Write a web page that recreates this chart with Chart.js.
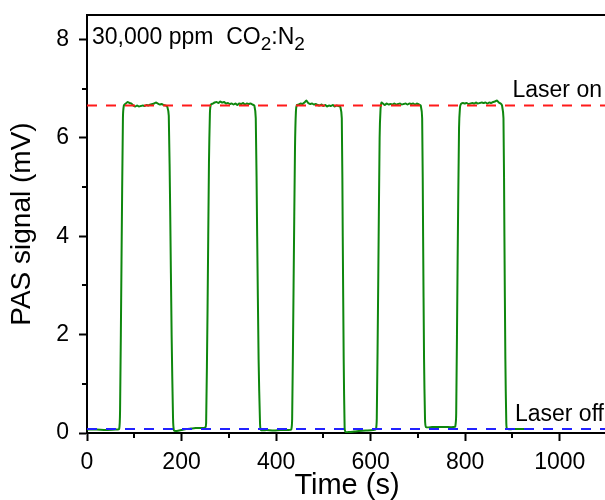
<!DOCTYPE html>
<html>
<head>
<meta charset="utf-8">
<script src="https://cdn.jsdelivr.net/npm/chart.js@4"></script>
<style>
  html, body { margin: 0; padding: 0; background: #fff; overflow: hidden; }
  #wrap { width: 610px; height: 500px; }
</style>
</head>
<body>
<div id="wrap"><canvas id="myChart"></canvas></div>
<script>
// time (s) and PAS signal (mV)
const timeS = [
  0, 20, 40, 60, 68, 70, 73, 76, 78, 82, 86, 90, 94, 98, 102, 106, 110, 114, 118, 122,
  126, 130, 134, 138, 142, 146, 150, 154, 158, 162, 166, 170, 173, 176, 179, 182, 184,
  190, 200, 210, 220, 230, 240, 250,
  252, 255, 258, 260, 262, 266, 270, 274, 278, 282, 286, 290, 294, 298, 302, 306, 310,
  314, 318, 322, 326, 330, 334, 338, 342, 346, 350, 354, 357, 360, 363, 366, 368,
  380, 395, 410, 425, 432,
  434, 437, 440, 442, 444, 448, 452, 456, 460, 464, 468, 472, 476, 480, 484, 488, 492,
  496, 500, 504, 508, 512, 516, 520, 524, 528, 532, 536, 539, 541, 543, 545, 547,
  555, 565, 575, 590, 605, 611,
  613, 616, 619, 621, 623, 626, 630, 634, 638, 642, 646, 650, 654, 658, 662, 666, 670,
  674, 678, 682, 686, 690, 694, 698, 702, 706, 709, 711, 713, 715, 717,
  730, 745, 760, 775, 779,
  781, 784, 787, 789, 791, 795, 799, 803, 807, 811, 815, 819, 823, 827, 831, 835, 839,
  843, 847, 851, 855, 859, 863, 867, 871, 875, 878, 881, 883, 885, 887, 889,
  900, 915, 936
];
const signalMV = [
  0.07, 0.07, 0.06, 0.07, 0.08, 0.5, 3.5, 6.4, 6.66, 6.70, 6.73, 6.71, 6.70, 6.66, 6.64, 6.66, 6.64, 6.65, 6.66, 6.65,
  6.67, 6.66, 6.68, 6.69, 6.70, 6.72, 6.70, 6.68, 6.69, 6.67, 6.66, 6.63, 6.45, 4.5, 2.0, 0.3, 0.05,
  0.04, 0.06, 0.08, 0.09, 0.10, 0.10, 0.11,
  0.2, 2.5, 5.5, 6.5, 6.68, 6.70, 6.72, 6.73, 6.71, 6.74, 6.72, 6.73, 6.70, 6.71, 6.69, 6.70, 6.68,
  6.70, 6.67, 6.70, 6.69, 6.71, 6.68, 6.70, 6.69, 6.70, 6.68, 6.66, 6.4, 4.0, 1.5, 0.2, 0.06,
  0.06, 0.05, 0.06, 0.06, 0.07,
  0.3, 3.0, 5.8, 6.55, 6.67, 6.68, 6.70, 6.69, 6.72, 6.76, 6.71, 6.69, 6.70, 6.68, 6.69, 6.67, 6.66,
  6.68, 6.65, 6.67, 6.64, 6.66, 6.65, 6.67, 6.64, 6.66, 6.65, 6.63, 6.4, 4.0, 1.5, 0.1, 0.02,
  0.02, 0.03, 0.04, 0.05, 0.06, 0.07,
  0.3, 3.0, 6.0, 6.6, 6.72, 6.70, 6.67, 6.70, 6.68, 6.69, 6.68, 6.70, 6.68, 6.69, 6.70, 6.68, 6.69,
  6.70, 6.68, 6.70, 6.69, 6.70, 6.68, 6.70, 6.68, 6.66, 6.4, 4.0, 1.5, 0.3, 0.12,
  0.12, 0.12, 0.12, 0.12, 0.13,
  0.4, 3.5, 6.2, 6.62, 6.69, 6.71, 6.70, 6.71, 6.69, 6.70, 6.71, 6.70, 6.72, 6.70, 6.71, 6.72, 6.71,
  6.72, 6.70, 6.72, 6.71, 6.73, 6.74, 6.76, 6.72, 6.70, 6.66, 6.4, 4.0, 1.5, 0.2, 0.08,
  0.08, 0.08, 0.08
];

const laserOn = 6.66;
const laserOff = 0.08;
const refX = [0, 1100];

const xTicks = [0, 200, 400, 600, 800, 1000];
const xMinor = [100, 300, 500, 700, 900];
const yTicks = [0, 2, 4, 6, 8];
const yMinor = [1, 3, 5, 7];

const FONT = "'Liberation Sans', Arial, sans-serif";

const points = timeS.map((t, i) => ({ x: t, y: signalMV[i] }));

// minor ticks, top frame line and the text notes
const extras = {
  id: 'extras',
  afterDraw(chart) {
    const c = chart.ctx;
    const a = chart.chartArea;
    const xs = chart.scales.x;
    const ys = chart.scales.y;
    c.save();
    c.strokeStyle = '#000';
    c.lineWidth = 2;
    c.beginPath();
    c.moveTo(a.left - 1, a.top);
    c.lineTo(a.right, a.top);
    c.moveTo(a.right, a.top);
    c.lineTo(a.right, a.bottom);
    xMinor.forEach(v => {
      const px = Math.round(xs.getPixelForValue(v));
      c.moveTo(px, a.bottom);
      c.lineTo(px, a.bottom + 5);
    });
    yMinor.forEach(v => {
      const py = Math.round(ys.getPixelForValue(v));
      c.moveTo(a.left, py);
      c.lineTo(a.left - 5, py);
    });
    c.stroke();

    c.fillStyle = '#000';
    c.textBaseline = 'alphabetic';
    // title note with subscripts
    let x = a.left + 5;
    const y = a.top + 29;
    const parts = [['30,000 ppm  CO', 0], ['2', 1], [':N', 0], ['2', 1]];
    parts.forEach(([s, sub]) => {
      c.font = (sub ? '19px ' : '23px ') + FONT;
      c.fillText(s, x, sub ? y + 6 : y);
      x += c.measureText(s).width;
    });
    c.font = '23px ' + FONT;
    c.textAlign = 'right';
    c.fillText('Laser on', 602, ys.getPixelForValue(laserOn) - 8);
    c.fillText('Laser off', 604, ys.getPixelForValue(laserOff) - 8);
    c.restore();
  }
};

new Chart(document.getElementById('myChart'), {
  type: 'line',
  data: {
    datasets: [
      {
        label: 'Laser on',
        data: refX.map(x => ({ x: x, y: laserOn })),
        borderColor: '#ff1a1a',
        borderWidth: 2,
        borderDash: [10, 9],
        pointRadius: 0,
      },
      {
        label: 'Laser off',
        data: refX.map(x => ({ x: x, y: laserOff })),
        borderColor: '#2222ff',
        borderWidth: 2,
        borderDash: [10, 9],
        pointRadius: 0,
      },
      {
        label: 'PAS signal',
        data: points,
        borderColor: '#0e870e',
        borderWidth: 2,
        pointRadius: 0,
        tension: 0.2,
      },
    ],
  },
  options: {
    responsive: true,
    maintainAspectRatio: false,
    animation: false,
    layout: { padding: { top: 15, right: 3, left: 0, bottom: 0 } },
    plugins: { legend: { display: false }, tooltip: { enabled: false } },
    scales: {
      x: {
        type: 'linear',
        min: 0,
        max: 1100,
        afterFit: s => { s.height = 67; s.paddingLeft = 0; s.paddingRight = 0; },
        afterBuildTicks: s => { s.ticks = xTicks.map(v => ({ value: v })); },
        ticks: {
          color: '#000',
          font: { family: FONT, size: 23 },
          padding: 8,
          maxRotation: 0,
          callback: v => String(v),
        },
        grid: { drawOnChartArea: false, tickLength: 8, tickWidth: 2, tickColor: '#000' },
        border: { color: '#000', width: 2 },
        title: {
          display: true,
          text: 'Time (s)',
          color: '#000',
          font: { family: FONT, size: 29, lineHeight: 1 },
          padding: { top: 0, bottom: 0 },
        },
      },
      y: {
        min: 0,
        max: 8.5,
        afterFit: s => { s.width = 87; s.paddingTop = 0; s.paddingBottom = 0; },
        afterBuildTicks: s => { s.ticks = yTicks.map(v => ({ value: v })); },
        ticks: {
          color: '#000',
          font: { family: FONT, size: 23 },
          padding: 10,
          callback: v => String(v),
        },
        grid: { drawOnChartArea: false, tickLength: 8, tickWidth: 2, tickColor: '#000' },
        border: { color: '#000', width: 2 },
        title: {
          display: true,
          text: 'PAS signal (mV)',
          color: '#000',
          font: { family: FONT, size: 28, lineHeight: 1 },
          padding: { top: 8, bottom: 0 },
        },
      },
    },
  },
  plugins: [extras],
});
</script>
</body>
</html>
